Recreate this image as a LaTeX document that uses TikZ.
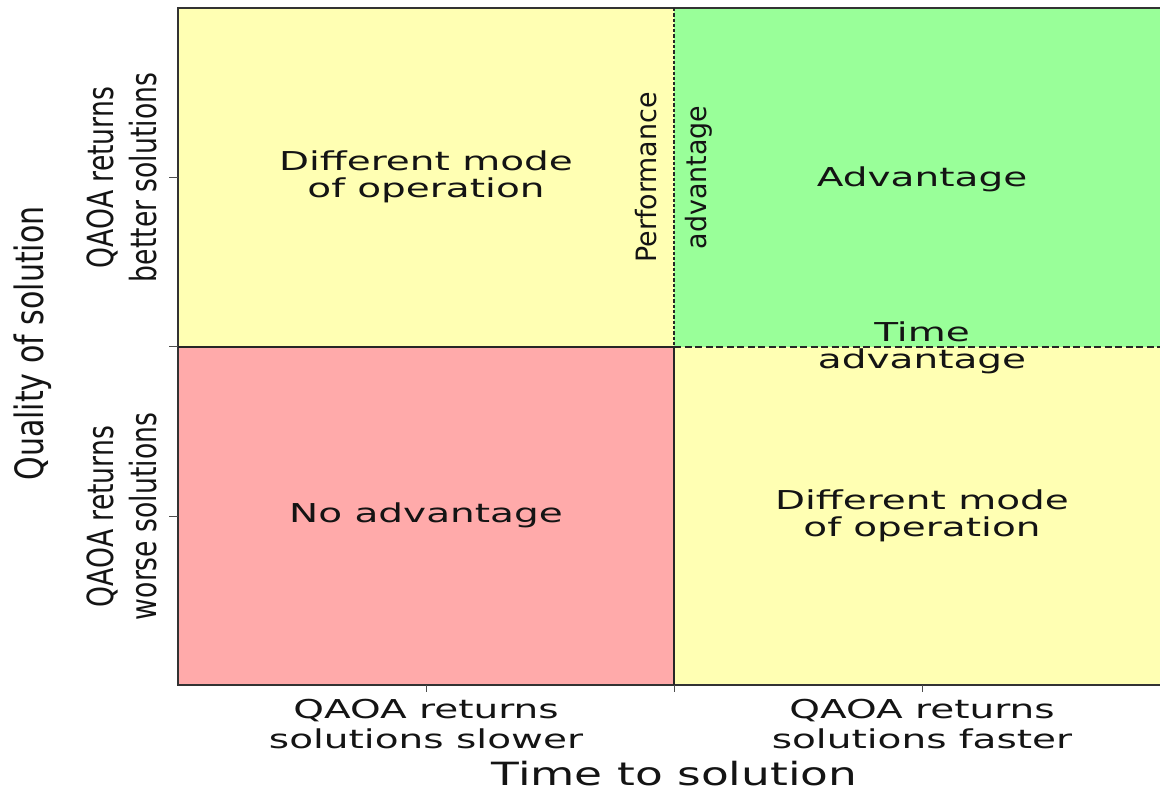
\documentclass[tikz,border=0pt]{standalone}
\usepackage{graphicx}
\usepackage{fontspec}
\setmainfont{DejaVu Sans}
\newcommand{\hs}[1]{\scalebox{1.5}[1]{#1}}
\newcommand{\vs}[2]{\scalebox{#1}[1]{#2}}
\definecolor{qyel}{RGB}{255,255,179}
\definecolor{qgrn}{RGB}{153,255,153}
\definecolor{qpnk}{RGB}{255,170,170}
\definecolor{qtxt}{RGB}{20,20,20}
\tikzset{
  frameline/.style={draw=black!80, line width=1.6pt},
  divline/.style={draw=black!85, line width=2.2pt},
  vdash/.style={draw=black!85, line width=2pt, dash pattern=on 3.3pt off 2pt},
  hdash/.style={draw=black!85, line width=2pt, dash pattern=on 7pt off 3.5pt},
  tickline/.style={draw=black!70, line width=1pt},
  hlab/.style={text=qtxt, inner sep=0pt, align=center, font=\fontsize{26}{27}\selectfont},
  xlab/.style={text=qtxt, inner sep=0pt, align=center, font=\fontsize{26}{30}\selectfont},
  vlab/.style={text=qtxt, inner sep=0pt, align=center, rotate=90, font=\fontsize{36}{43}\selectfont},
  plab/.style={text=qtxt, inner sep=0pt, align=center, rotate=90, font=\fontsize{28}{50}\selectfont},
}
\begin{document}
\begin{tikzpicture}[x=1pt,y=-1pt]
\useasboundingbox (0,0) rectangle (1160,791);
% corners and division points
\coordinate (tl) at (178,8);
\coordinate (tm) at (674,8);
\coordinate (tr) at (1160,8);
\coordinate (ml) at (178,347);
\coordinate (mm) at (674,347);
\coordinate (mr) at (1160,347);
\coordinate (bl) at (178,685);
\coordinate (bm) at (674,685);
\coordinate (br) at (1160,685);
% quadrants
\fill[qyel] (tl) rectangle (mm);
\fill[qgrn] (tm) rectangle (mr);
\fill[qpnk] (ml) rectangle (bm);
\fill[qyel] (mm) rectangle (br);
% frame
\draw[frameline] (tr) -- (tl) -- (bl) -- (br);
% dividers
\draw[divline] (ml) -- (mm) -- (bm);
\draw[vdash] (tm) -- (mm);
\draw[hdash] (mm) -- (mr);
% ticks
\coordinate (ly1) at (178,177.5);
\coordinate (ly3) at (178,516.5);
\coordinate (bx1) at (426,685);
\coordinate (bx3) at (922,685);
\draw[tickline] (ly1) -- ++(-9,0);
\draw[tickline] (ml) -- ++(-9,0);
\draw[tickline] (ly3) -- ++(-9,0);
\draw[tickline] (bx1) -- ++(0,7);
\draw[tickline] (bm) -- ++(0,7);
\draw[tickline] (bx3) -- ++(0,7);
% quadrant labels
\node[hlab] (q1) at (426,176.7) {\hs{Different mode}\\\hs{of operation}};
\node[hlab, anchor=base] (q2) at (922,187) {\hs{Advantage}};
\node[hlab, anchor=base] (q3) at (426,522) {\hs{No advantage}};
\node[hlab] (q4) at (922,516) {\hs{Different mode}\\\hs{of operation}};
\node[hlab] (tadv) at (922,347.5) {\hs{Time}\\\hs{advantage}};
\node[plab] (padv) at (674,177.5) {\vs{0.96}{Performance}\\\vs{0.96}{advantage}};
% axis tick labels
\node[xlab] (xt1) at (426,724) {\hs{QAOA returns}\\\hs{solutions slower}};
\node[xlab] (xt2) at (922,724) {\hs{QAOA returns}\\\hs{solutions faster}};
\node[text=qtxt, inner sep=0pt, anchor=base, font=\fontsize{32}{32}\selectfont] (xax) at (674.5,785) {\scalebox{1.42}[1]{Time to solution}};
\node[vlab] (yt1) at (122,177.5) {\vs{0.74}{QAOA returns}\\\vs{0.74}{better solutions}};
\node[vlab] (yt2) at (122,516.5) {\vs{0.74}{QAOA returns}\\\vs{0.74}{worse solutions}};
\node[text=qtxt, inner sep=0pt, rotate=90, anchor=base, font=\fontsize{39}{39}\selectfont] (yax) at (43,343.5) {\scalebox{0.77}[1]{Quality of solution}};
\end{tikzpicture}
\end{document}
